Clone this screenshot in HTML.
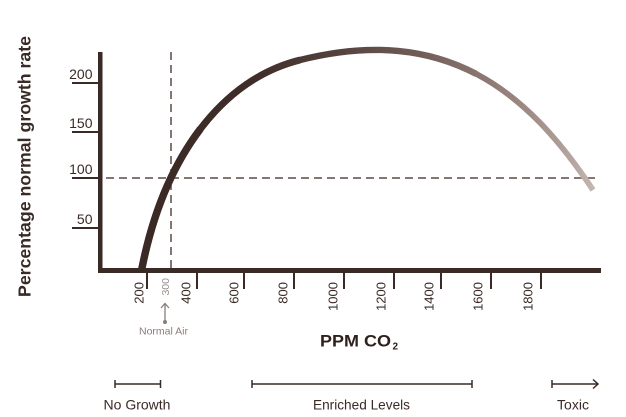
<!DOCTYPE html>
<html>
<head>
<meta charset="utf-8">
<style>
  html,body{margin:0;padding:0;background:#fff;}
  svg{display:block;}
  text{font-family:"Liberation Sans", sans-serif;}
</style>
</head>
<body>
<svg width="626" height="417" viewBox="0 0 626 417" xmlns="http://www.w3.org/2000/svg">
  <defs>
    <linearGradient id="cg" gradientUnits="userSpaceOnUse" x1="140" y1="0" x2="595" y2="0">
      <stop offset="0" stop-color="#3a2924"/>
      <stop offset="0.25" stop-color="#3e2d28"/>
      <stop offset="0.45" stop-color="#574440"/>
      <stop offset="0.62" stop-color="#725e59"/>
      <stop offset="0.8" stop-color="#947f7a"/>
      <stop offset="0.92" stop-color="#ad9b96"/>
      <stop offset="1" stop-color="#c4b6b1"/>
    </linearGradient>
  </defs>
  <rect width="626" height="417" fill="#fff"/>

  <!-- Y axis title -->
  <text transform="translate(30.5,166.5) rotate(-90)" text-anchor="middle" font-size="17.5" font-weight="bold" fill="#3a2a25" textLength="261" lengthAdjust="spacingAndGlyphs">Percentage normal growth rate</text>

  <!-- dashed reference lines -->
  <line x1="106" y1="178" x2="596" y2="178" stroke="#5a4a45" stroke-width="1.5" stroke-dasharray="8,5"/>
  <line x1="171" y1="52" x2="171" y2="268" stroke="#5a4a45" stroke-width="1.5" stroke-dasharray="8,5"/>

  <!-- Y ticks -->
  <g stroke="#3a2a25" stroke-width="2">
    <line x1="72" y1="83" x2="100" y2="83"/>
    <line x1="72" y1="132" x2="100" y2="132"/>
    <line x1="72" y1="178" x2="100" y2="178"/>
    <line x1="72" y1="228" x2="100" y2="228"/>
  </g>
  <g font-size="14" fill="#3a2a25" text-anchor="end">
    <text x="92.5" y="79">200</text>
    <text x="92.5" y="128">150</text>
    <text x="92.5" y="174">100</text>
    <text x="92.5" y="224">50</text>
  </g>

  <!-- curve (stacked widths for taper) -->
  <g fill="none" stroke="url(#cg)" stroke-linecap="butt" stroke-linejoin="round">
    <path stroke-width="5.7" d="M142,272 L142,268 C164.5,155.3 222.4,79.4 300,60 C372.75,41.75 429.5,49.35 476.31,73.96 C523.125,98.575 560,140.2 593,190"/>
    <path stroke-width="6.4" d="M142,272 L142,268 C164.5,155.3 222.4,79.4 300,60 C372.75,41.75 429.5,49.35 476.31,73.96"/>
    <path stroke-width="7.0" d="M142,272 L142,268 C164.5,155.3 222.4,79.4 300,60"/>
    <path stroke-width="7.4" d="M142,272 L142,268 C153.25,211.65 173.35,164.5 200.34,129.01"/>
  </g>

  <!-- axes -->
  <rect x="98" y="52" width="4.5" height="221" fill="#3a2a25"/>
  <rect x="98" y="268" width="503" height="5" fill="#3a2a25"/>

  <!-- X ticks -->
  <g stroke="#3a2a25" stroke-width="2">
    <line x1="147" y1="272" x2="147" y2="289"/>
    <line x1="197" y1="272" x2="197" y2="289"/>
    <line x1="244" y1="272" x2="244" y2="289"/>
    <line x1="294" y1="272" x2="294" y2="289"/>
    <line x1="344" y1="272" x2="344" y2="289"/>
    <line x1="394" y1="272" x2="394" y2="289"/>
    <line x1="441" y1="272" x2="441" y2="289"/>
    <line x1="491" y1="272" x2="491" y2="289"/>
    <line x1="541" y1="272" x2="541" y2="289"/>
  </g>

  <!-- X labels -->
  <g font-size="13" fill="#3a2a25" text-anchor="end">
    <text transform="translate(143.5,282) rotate(-90)">200</text>
    <text transform="translate(190.5,282) rotate(-90)">400</text>
    <text transform="translate(238.5,282) rotate(-90)">600</text>
    <text transform="translate(287.5,282) rotate(-90)">800</text>
    <text transform="translate(337.5,282) rotate(-90)">1000</text>
    <text transform="translate(385.5,282) rotate(-90)">1200</text>
    <text transform="translate(433.5,282) rotate(-90)">1400</text>
    <text transform="translate(482.5,282) rotate(-90)">1600</text>
    <text transform="translate(532.5,282) rotate(-90)">1800</text>
  </g>
  <text transform="translate(168.8,278) rotate(-90)" text-anchor="end" font-size="10.5" fill="#9a8d89">300</text>

  <!-- Normal Air arrow -->
  <g stroke="#8a7d79" stroke-width="1.3" fill="none">
    <line x1="165" y1="304" x2="165" y2="322"/>
    <polyline points="161,308 165,303.5 169,308"/>
  </g>
  <circle cx="165" cy="322" r="2" fill="#8a7d79"/>
  <text x="163.5" y="334.5" text-anchor="middle" font-size="10.5" fill="#8a7d79">Normal Air</text>

  <!-- PPM CO2 -->
  <text x="320" y="346.5" font-size="17" font-weight="bold" fill="#2e211d" textLength="71" lengthAdjust="spacingAndGlyphs">PPM CO</text>
  <text x="392.5" y="349.5" font-size="10" font-weight="bold" fill="#2e211d">2</text>

  <!-- bottom range annotations -->
  <g stroke="#3a2a25" stroke-width="1.5" fill="none">
    <line x1="115" y1="384" x2="160.5" y2="384"/>
    <line x1="115" y1="380" x2="115" y2="388"/>
    <line x1="160.5" y1="380" x2="160.5" y2="388"/>

    <line x1="252" y1="384" x2="472" y2="384"/>
    <line x1="252" y1="380" x2="252" y2="388"/>
    <line x1="472" y1="380" x2="472" y2="388"/>

    <line x1="552" y1="384" x2="597" y2="384"/>
    <line x1="552" y1="380" x2="552" y2="388"/>
    <polyline points="593,379.5 598,384 593,388.5"/>
  </g>
  <g font-size="14" fill="#3a2a25" text-anchor="middle">
    <text x="137" y="409.5">No Growth</text>
    <text x="361.5" y="409.5" textLength="97" lengthAdjust="spacingAndGlyphs">Enriched Levels</text>
    <text x="573" y="409.5">Toxic</text>
  </g>
</svg>
</body>
</html>
